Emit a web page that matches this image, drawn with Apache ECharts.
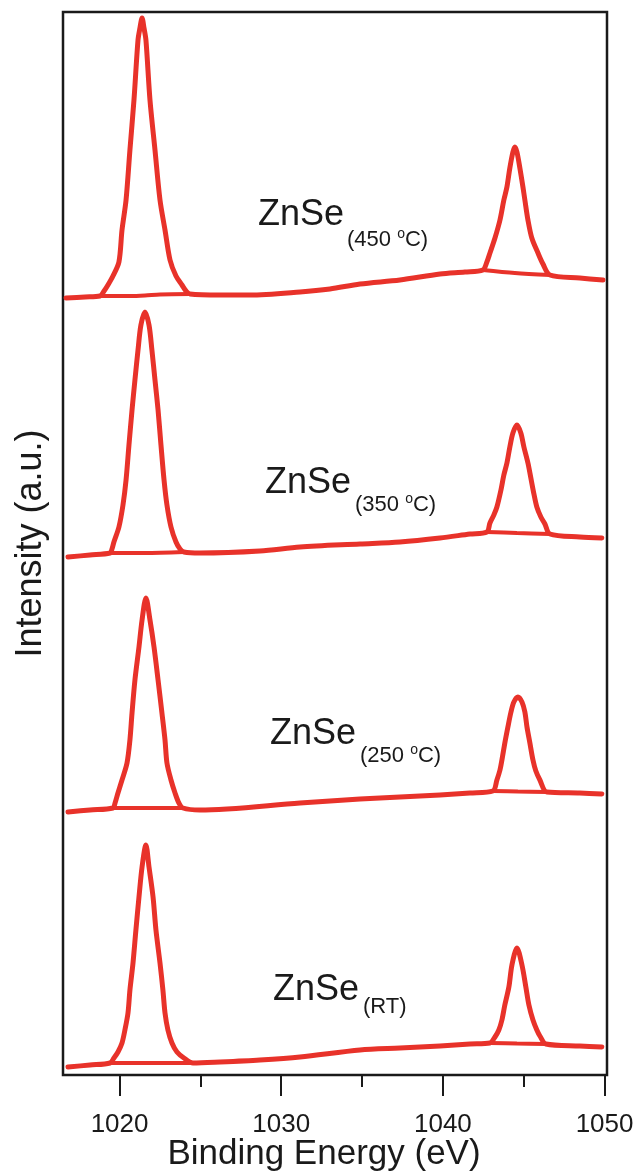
<!DOCTYPE html>
<html>
<head>
<meta charset="utf-8">
<script src="https://cdn.jsdelivr.net/npm/echarts@6/dist/echarts.min.js"></script>
<style>
  html, body { margin: 0; padding: 0; background: #fff; }
  #main { width: 641px; height: 1173px; }
</style>
</head>
<body>
<div id="main"></div>
<script>
// binding energy (eV) / intensity (a.u., spectra stacked)
var energy450 = [1016.69, 1017.86, 1018.79, 1019.04, 1019.28, 1019.59, 1019.96, 1020.15, 1020.40, 1020.64,
  1020.89, 1021.14, 1021.26, 1021.39, 1021.51, 1021.63, 1021.88, 1022.19, 1022.50, 1022.81,
  1023.12, 1023.49, 1023.86, 1024.11, 1024.35, 1026.21, 1028.06, 1031.16, 1033.01, 1034.87,
  1037.34, 1039.82, 1041.36, 1042.47, 1042.72, 1042.91, 1043.22, 1043.53, 1043.77, 1043.96,
  1044.14, 1044.33, 1044.45, 1044.58, 1044.76, 1044.95, 1045.07, 1045.26, 1045.50, 1045.88,
  1046.19, 1046.62, 1048.47, 1049.90];
var counts450 = [777, 778, 779, 784, 790, 799, 813, 845, 875, 925,
  975, 1035, 1047, 1057, 1047, 1035, 975, 925, 875, 845,
  815, 799, 790, 784, 781, 780, 780, 783, 786, 791,
  795, 801, 803, 805, 813, 822, 837, 855, 875, 888,
  907, 923, 928, 923, 907, 888, 875, 855, 837, 822,
  811, 800, 797, 795];

var energy350 = [1016.81, 1018.17, 1019.41, 1019.53, 1019.65, 1019.96, 1020.21, 1020.40, 1020.58, 1020.77,
  1020.95, 1021.14, 1021.32, 1021.57, 1021.82, 1022.00, 1022.19, 1022.38, 1022.56, 1022.75,
  1022.93, 1023.18, 1023.49, 1023.74, 1023.98, 1024.97, 1028.68, 1031.16, 1034.87, 1037.34,
  1039.82, 1041.67, 1042.72, 1042.91, 1043.15, 1043.34, 1043.59, 1043.77, 1043.96, 1044.14,
  1044.33, 1044.58, 1044.82, 1045.01, 1045.26, 1045.44, 1045.63, 1045.81, 1046.06, 1046.31,
  1046.62, 1048.47, 1049.83];
var counts350 = [518, 520, 522, 526, 533, 548, 570, 595, 630, 665,
  695, 725, 750, 763, 750, 725, 695, 665, 630, 595,
  570, 548, 533, 526, 523, 522, 524, 528, 531, 533,
  537, 541, 543, 552, 560, 568, 585, 600, 612, 628,
  642, 650, 642, 628, 612, 597, 581, 568, 558, 551,
  541, 538, 537];

var energy250 = [1016.81, 1018.17, 1019.59, 1019.72, 1019.90, 1020.15, 1020.46, 1020.64, 1020.77, 1020.95,
  1021.20, 1021.39, 1021.63, 1021.88, 1022.13, 1022.38, 1022.62, 1022.81, 1022.93, 1023.18,
  1023.43, 1023.67, 1023.92, 1024.97, 1031.16, 1034.87, 1037.34, 1039.82, 1041.67, 1043.09,
  1043.34, 1043.53, 1043.65, 1043.83, 1044.02, 1044.21, 1044.39, 1044.64, 1044.89, 1045.07,
  1045.20, 1045.38, 1045.57, 1045.75, 1046.00, 1046.43, 1048.47, 1049.83];
var counts250 = [263, 265, 267, 272, 282, 295, 312, 335, 362, 395,
  428, 455, 477, 455, 428, 395, 362, 335, 312, 295,
  282, 272, 267, 265, 272, 276, 278, 280, 282, 284,
  295, 305, 315, 332, 348, 363, 373, 378, 373, 363,
  348, 332, 315, 304, 295, 283, 282, 281];

var energyRT = [1016.81, 1018.17, 1019.41, 1019.65, 1019.90, 1020.15, 1020.33, 1020.52, 1020.64, 1020.83,
  1021.01, 1021.20, 1021.39, 1021.63, 1021.82, 1022.07, 1022.25, 1022.50, 1022.68, 1022.81,
  1022.99, 1023.24, 1023.55, 1023.98, 1024.54, 1026.21, 1028.68, 1031.16, 1034.87, 1037.34,
  1039.82, 1041.67, 1042.91, 1043.22, 1043.46, 1043.65, 1043.83, 1044.08, 1044.27, 1044.58,
  1044.89, 1045.13, 1045.32, 1045.57, 1045.81, 1046.00, 1046.37, 1048.47, 1049.83];
var countsRT = [8, 10, 12, 17, 23, 32, 45, 62, 85, 112,
  145, 178, 208, 230, 208, 178, 145, 112, 85, 62,
  45, 32, 23, 17, 12, 13, 15, 18, 25, 27,
  29, 31, 32, 38, 45, 55, 70, 88, 110, 127,
  110, 88, 70, 55, 45, 39, 31, 29, 28];

// fitted backgrounds under each peak
var bgEnergy450a = [1018.79, 1020.64, 1021.57, 1022.50, 1024.35];
var bgCounts450a = [779, 779, 779.5, 780.5, 781];
var bgEnergy450b = [1042.47, 1044.45, 1046.62];
var bgCounts450b = [805, 802, 800];
var bgEnergy350a = [1019.41, 1021.57, 1023.98];
var bgCounts350a = [522, 522, 523];
var bgEnergy350b = [1042.72, 1044.58, 1046.62];
var bgCounts350b = [543, 542, 541];
var bgEnergy250a = [1019.59, 1021.63, 1023.92];
var bgCounts250a = [267, 267, 267];
var bgEnergy250b = [1043.09, 1044.64, 1046.43];
var bgCounts250b = [284, 283.5, 283];
var bgEnergyRTa = [1019.41, 1021.63, 1024.54];
var bgCountsRTa = [12, 12, 12];
var bgEnergyRTb = [1042.91, 1044.58, 1046.37];
var bgCountsRTb = [32, 31.5, 31];

var majorTicks = [1020, 1030, 1040, 1050];
var minorTicks = [1025, 1035, 1045];

var sampleNames = ['450 ', '350 ', '250 ', 'RT'];

var RED = '#e8322a';
var INK = '#1a1a1a';
var FONT = '"Liberation Sans", Arial, sans-serif';

function zip(xs, ys) {
  return xs.map(function (x, i) { return [x, ys[i]]; });
}

function spectrum(xs, ys) {
  return {
    type: 'line', data: zip(xs, ys), showSymbol: false, smooth: 0.3,
    lineStyle: { color: RED, width: 5, join: 'round', cap: 'round' }, silent: true
  };
}

function background(xs, ys) {
  return {
    type: 'line', data: zip(xs, ys), showSymbol: false, smooth: 0.3,
    lineStyle: { color: RED, width: 4 }, silent: true
  };
}

var myChart = echarts.init(document.getElementById('main'));

// sample labels: ZnSe with the temperature as subscript
var labelPos = [
  { x: 258, y: 218, sx: 347, sy: 239 },
  { x: 265, y: 486, sx: 355, sy: 504 },
  { x: 270, y: 737, sx: 360, sy: 755 },
  { x: 273, y: 993, sx: 363, sy: 1008 }
];
var graphics = [];
labelPos.forEach(function (p, i) {
  graphics.push({
    type: 'text', left: p.x, top: p.y - 21,
    style: { text: 'ZnSe', font: '36px ' + FONT, fill: INK }
  });
  var sub = sampleNames[i] === 'RT'
    ? '{b|(RT)}'
    : '{b|(' + sampleNames[i] + '}{c|o}{b|C)}';
  graphics.push({
    type: 'text', left: p.sx, top: p.sy - 12,
    style: {
      text: sub, fill: INK,
      rich: {
        b: { fontSize: 22, fontFamily: FONT, fill: INK, lineHeight: 24, verticalAlign: 'bottom' },
        c: { fontSize: 14, fontFamily: FONT, fill: INK, lineHeight: 24, verticalAlign: 'top' }
      }
    }
  });
});

var option = {
  animation: false,
  backgroundColor: '#fff',
  grid: {
    left: 63, right: 34, top: 12, bottom: 98,
    outerBoundsMode: 'none', containLabel: false,
    show: true, borderColor: INK, borderWidth: 2.5
  },
  xAxis: [
    {
      type: 'value', position: 'bottom', min: 1016.5, max: 1050.15,
      axisLine: { show: false },
      splitLine: { show: false },
      axisTick: { show: true, inside: false, length: 21, customValues: majorTicks,
        lineStyle: { color: INK, width: 2 } },
      axisLabel: { customValues: majorTicks, fontSize: 26, color: INK, fontFamily: FONT, margin: 37,
        formatter: function (v) { return String(v); } },
      name: 'Binding Energy (eV)', nameLocation: 'middle', nameGap: 62, nameMoveOverlap: false,
      nameTextStyle: { fontSize: 35, color: INK, fontFamily: FONT, padding: [0, 22, 0, 0] }
    },
    {
      type: 'value', position: 'bottom', min: 1016.5, max: 1050.15,
      axisLine: { show: false },
      splitLine: { show: false },
      axisTick: { show: true, inside: false, length: 12, customValues: minorTicks,
        lineStyle: { color: INK, width: 2 } },
      axisLabel: { show: false }
    }
  ],
  yAxis: {
    type: 'value', min: 0, max: 1063,
    axisLine: { show: false }, axisTick: { show: false },
    axisLabel: { show: false }, splitLine: { show: false },
    name: 'Intensity (a.u.)', nameLocation: 'middle', nameGap: 14, nameMoveOverlap: false,
    nameTextStyle: { fontSize: 36, color: INK, fontFamily: FONT }
  },
  series: [
    spectrum(energy450, counts450),
    spectrum(energy350, counts350),
    spectrum(energy250, counts250),
    spectrum(energyRT, countsRT),
    background(bgEnergy450a, bgCounts450a),
    background(bgEnergy450b, bgCounts450b),
    background(bgEnergy350a, bgCounts350a),
    background(bgEnergy350b, bgCounts350b),
    background(bgEnergy250a, bgCounts250a),
    background(bgEnergy250b, bgCounts250b),
    background(bgEnergyRTa, bgCountsRTa),
    background(bgEnergyRTb, bgCountsRTb)
  ],
  graphic: graphics
};

myChart.setOption(option);
</script>
</body>
</html>
